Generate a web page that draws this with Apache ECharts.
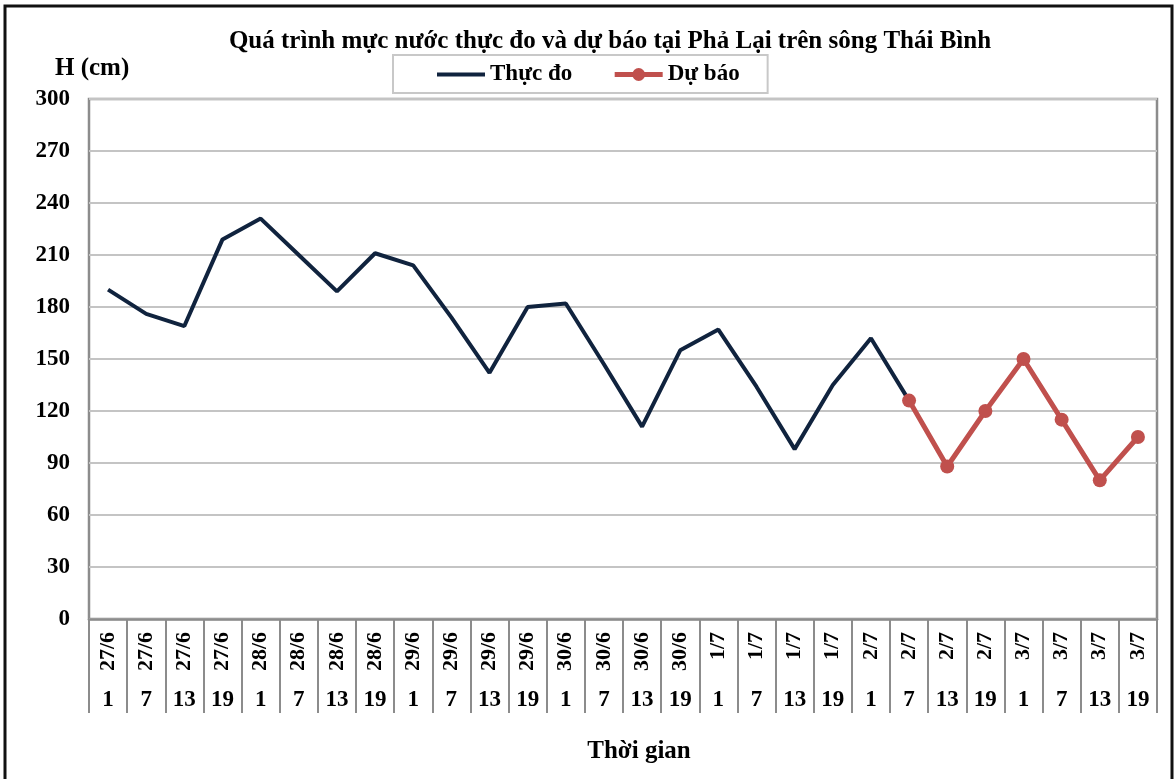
<!DOCTYPE html>
<html>
<head>
<meta charset="utf-8">
<script src="https://cdn.jsdelivr.net/npm/echarts@6/dist/echarts.min.js"></script>
<style>html,body{margin:0;padding:0;background:#fff}#c{width:1175px;height:779px}</style>
</head>
<body>
<div id="c"></div>
<script>
const dates = ['27/6','27/6','27/6','27/6','28/6','28/6','28/6','28/6','29/6','29/6','29/6','29/6','30/6','30/6','30/6','30/6','1/7','1/7','1/7','1/7','2/7','2/7','2/7','2/7','3/7','3/7','3/7','3/7'];
const hours = ['1','7','13','19','1','7','13','19','1','7','13','19','1','7','13','19','1','7','13','19','1','7','13','19','1','7','13','19'];
const observed = [190,176,169,219,231,210,189,211,204,174,142,180,182,147,111,155,167,134,98,135,162,126,null,null,null,null,null,null];
const forecast = [null,null,null,null,null,null,null,null,null,null,null,null,null,null,null,null,null,null,null,null,null,126,88,120,150,115,80,105];
const yTicks = {min:0, max:300, interval:30};

const FONT = '"Liberation Serif", "Times New Roman", serif';
const chart = echarts.init(document.getElementById('c'), null, {renderer:'canvas'});
chart.setOption({
  backgroundColor:'#fff',
  animation:false,
  title:{
    text:'Quá trình mực nước thực đo và dự báo tại Phả Lại trên sông Thái Bình',
    left:605, top:24, textAlign:'center',
    textStyle:{fontFamily:FONT, fontWeight:'bold', fontSize:25, color:'#000'}
  },
  legend:{
    left:393, top:55,
    padding:[8,28,7,44],
    itemGap:40, itemWidth:48, itemHeight:16,
    borderColor:'#c8c8c8', borderWidth:2,
    lineStyle:{width:'inherit'},
    textStyle:{fontFamily:FONT, fontWeight:'bold', fontSize:23, color:'#000'},
    data:[{name:'Thực đo', icon:'path://M0,0 L48,0 L48,3.8 L0,3.8 Z'}, {name:'Dự báo'}]
  },
  graphic:[
    {type:'rect', shape:{x:5,y:6,width:1167,height:800}, style:{fill:'none', stroke:'#111', lineWidth:3}, silent:true},
    {type:'text', left:55, top:56, style:{text:'H (cm)', font:'bold 25px ' + FONT, fill:'#000'}},
    {type:'text', x:639, y:752, style:{text:'Thời gian', font:'bold 25px ' + FONT, fill:'#000', align:'center', verticalAlign:'middle'}}
  ],
  grid:{left:89, right:18, top:99, bottom:160, show:true, borderColor:'#8c8c8c', borderWidth:2.5, containLabel:false},
  xAxis:[
    {type:'category', data:dates, boundaryGap:true,
     axisLine:{show:true, lineStyle:{color:'#8c8c8c', width:2.5}},
     axisTick:{show:true, interval:0, length:94, lineStyle:{color:'#8c8c8c', width:2}},
     axisLabel:{interval:0, rotate:90, margin:13, fontFamily:FONT, fontWeight:'bold', fontSize:22, color:'#000'}
    },
    {type:'category', data:hours, boundaryGap:true, position:'bottom',
     axisLine:{show:false}, axisTick:{show:false},
     axisLabel:{interval:0, margin:70, fontFamily:FONT, fontWeight:'bold', fontSize:23, color:'#000'}
    }
  ],
  yAxis:{
    type:'value', min:yTicks.min, max:yTicks.max, interval:yTicks.interval,
    axisLine:{show:false}, axisTick:{show:false},
    splitLine:{show:true, lineStyle:{color:'#c4c4c4', width:2}},
    axisLabel:{margin:19, fontFamily:FONT, fontWeight:'bold', fontSize:23, color:'#000'}
  },
  series:[
    {name:'Thực đo', type:'line', data:observed, xAxisIndex:0, symbol:'none', connectNulls:false,
     lineStyle:{color:'#10233e', width:4}, itemStyle:{color:'#10233e'}, z:2},
    {name:'Dự báo', type:'line', data:forecast, xAxisIndex:0, symbol:'circle', symbolSize:14, connectNulls:false,
     lineStyle:{color:'#c0504d', width:5}, itemStyle:{color:'#c0504d'}, z:3}
  ]
});
</script>
</body>
</html>
